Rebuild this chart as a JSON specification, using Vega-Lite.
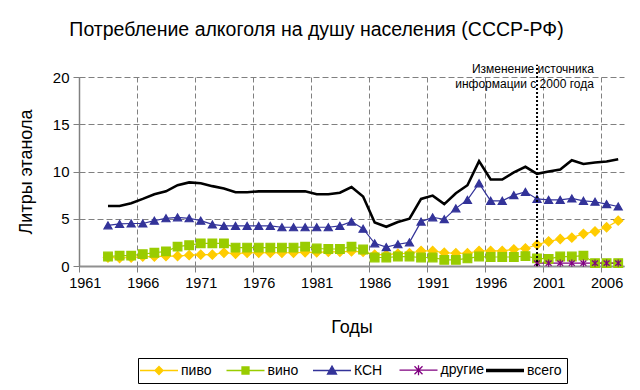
{
  "$schema": "https://vega.github.io/schema/vega-lite/v6.json",
  "width": 545,
  "height": 189,
  "autosize": {"type": "none"},
  "padding": {"left": 79, "top": 77, "right": 16, "bottom": 124},
  "background": "white",
  "config": {
    "font": "Liberation Sans",
    "view": {"stroke": null},
    "axis": {"labelColor": "#000", "titleColor": "#000", "labelFont": "Liberation Sans", "titleFont": "Liberation Sans", "titleFontWeight": "normal"}
  },
  "title": {"text": "Потребление алкоголя на душу населения (СССР-РФ)", "fontSize": 19.5, "fontWeight": "normal", "font": "Liberation Sans", "color": "#000", "anchor": "middle", "dx": -35, "offset": 23},
  "data": {"values": [
    {"year":1963,"series":"пиво","value":0.9},{"year":1964,"series":"пиво","value":0.85},{"year":1965,"series":"пиво","value":0.9},{"year":1966,"series":"пиво","value":1.0},{"year":1967,"series":"пиво","value":1.0},{"year":1968,"series":"пиво","value":1.05},{"year":1969,"series":"пиво","value":1.05},{"year":1970,"series":"пиво","value":1.15},{"year":1971,"series":"пиво","value":1.2},{"year":1972,"series":"пиво","value":1.2},{"year":1973,"series":"пиво","value":1.4},{"year":1974,"series":"пиво","value":1.3},{"year":1975,"series":"пиво","value":1.4},{"year":1976,"series":"пиво","value":1.4},{"year":1977,"series":"пиво","value":1.4},{"year":1978,"series":"пиво","value":1.4},{"year":1979,"series":"пиво","value":1.4},{"year":1980,"series":"пиво","value":1.45},{"year":1981,"series":"пиво","value":1.45},{"year":1982,"series":"пиво","value":1.5},{"year":1983,"series":"пиво","value":1.5},{"year":1984,"series":"пиво","value":1.55},{"year":1985,"series":"пиво","value":1.5},{"year":1986,"series":"пиво","value":1.2},{"year":1987,"series":"пиво","value":1.2},{"year":1988,"series":"пиво","value":1.3},{"year":1989,"series":"пиво","value":1.35},{"year":1990,"series":"пиво","value":1.6},{"year":1991,"series":"пиво","value":1.6},{"year":1992,"series":"пиво","value":1.4},{"year":1993,"series":"пиво","value":1.35},{"year":1994,"series":"пиво","value":1.35},{"year":1995,"series":"пиво","value":1.6},{"year":1996,"series":"пиво","value":1.6},{"year":1997,"series":"пиво","value":1.6},{"year":1998,"series":"пиво","value":1.75},{"year":1999,"series":"пиво","value":1.85},{"year":2000,"series":"пиво","value":2.25},{"year":2001,"series":"пиво","value":2.6},{"year":2002,"series":"пиво","value":2.85},{"year":2003,"series":"пиво","value":3.0},{"year":2004,"series":"пиво","value":3.4},{"year":2005,"series":"пиво","value":3.65},{"year":2006,"series":"пиво","value":4.1},{"year":2007,"series":"пиво","value":4.8},
    {"year":1963,"series":"вино","value":1.0},{"year":1964,"series":"вино","value":1.1},{"year":1965,"series":"вино","value":1.1},{"year":1966,"series":"вино","value":1.25},{"year":1967,"series":"вино","value":1.4},{"year":1968,"series":"вино","value":1.55},{"year":1969,"series":"вино","value":2.05},{"year":1970,"series":"вино","value":2.2},{"year":1971,"series":"вино","value":2.4},{"year":1972,"series":"вино","value":2.4},{"year":1973,"series":"вино","value":2.4},{"year":1974,"series":"вино","value":1.95},{"year":1975,"series":"вино","value":1.95},{"year":1976,"series":"вино","value":1.95},{"year":1977,"series":"вино","value":1.95},{"year":1978,"series":"вино","value":1.95},{"year":1979,"series":"вино","value":1.95},{"year":1980,"series":"вино","value":2.05},{"year":1981,"series":"вино","value":1.85},{"year":1982,"series":"вино","value":1.8},{"year":1983,"series":"вино","value":1.8},{"year":1984,"series":"вино","value":2.05},{"year":1985,"series":"вино","value":1.75},{"year":1986,"series":"вино","value":0.9},{"year":1987,"series":"вино","value":0.9},{"year":1988,"series":"вино","value":1.0},{"year":1989,"series":"вино","value":1.0},{"year":1990,"series":"вино","value":0.9},{"year":1991,"series":"вино","value":0.9},{"year":1992,"series":"вино","value":0.65},{"year":1993,"series":"вино","value":0.65},{"year":1994,"series":"вино","value":0.8},{"year":1995,"series":"вино","value":1.0},{"year":1996,"series":"вино","value":0.95},{"year":1997,"series":"вино","value":0.95},{"year":1998,"series":"вино","value":0.95},{"year":1999,"series":"вино","value":1.05},{"year":2000,"series":"вино","value":0.8},{"year":2001,"series":"вино","value":0.75},{"year":2002,"series":"вино","value":1.0},{"year":2003,"series":"вино","value":1.0},{"year":2004,"series":"вино","value":1.1},{"year":2005,"series":"вино","value":0.3},{"year":2006,"series":"вино","value":0.3},{"year":2007,"series":"вино","value":0.3},
    {"year":1963,"series":"КСН","value":4.3},{"year":1964,"series":"КСН","value":4.45},{"year":1965,"series":"КСН","value":4.5},{"year":1966,"series":"КСН","value":4.5},{"year":1967,"series":"КСН","value":4.8},{"year":1968,"series":"КСН","value":5.05},{"year":1969,"series":"КСН","value":5.15},{"year":1970,"series":"КСН","value":5.05},{"year":1971,"series":"КСН","value":4.8},{"year":1972,"series":"КСН","value":4.4},{"year":1973,"series":"КСН","value":4.25},{"year":1974,"series":"КСН","value":4.25},{"year":1975,"series":"КСН","value":4.25},{"year":1976,"series":"КСН","value":4.25},{"year":1977,"series":"КСН","value":4.25},{"year":1978,"series":"КСН","value":4.1},{"year":1979,"series":"КСН","value":4.1},{"year":1980,"series":"КСН","value":4.1},{"year":1981,"series":"КСН","value":4.1},{"year":1982,"series":"КСН","value":4.1},{"year":1983,"series":"КСН","value":4.25},{"year":1984,"series":"КСН","value":4.7},{"year":1985,"series":"КСН","value":3.95},{"year":1986,"series":"КСН","value":2.4},{"year":1987,"series":"КСН","value":2.0},{"year":1988,"series":"КСН","value":2.3},{"year":1989,"series":"КСН","value":2.5},{"year":1990,"series":"КСН","value":4.7},{"year":1991,"series":"КСН","value":5.15},{"year":1992,"series":"КСН","value":4.95},{"year":1993,"series":"КСН","value":6.1},{"year":1994,"series":"КСН","value":7.0},{"year":1995,"series":"КСН","value":8.75},{"year":1996,"series":"КСН","value":6.9},{"year":1997,"series":"КСН","value":6.9},{"year":1998,"series":"КСН","value":7.5},{"year":1999,"series":"КСН","value":7.85},{"year":2000,"series":"КСН","value":7.1},{"year":2001,"series":"КСН","value":7.0},{"year":2002,"series":"КСН","value":7.0},{"year":2003,"series":"КСН","value":7.15},{"year":2004,"series":"КСН","value":6.9},{"year":2005,"series":"КСН","value":6.8},{"year":2006,"series":"КСН","value":6.55},{"year":2007,"series":"КСН","value":6.3},
    {"year":2000,"series":"другие","value":0.3},{"year":2001,"series":"другие","value":0.3},{"year":2002,"series":"другие","value":0.3},{"year":2003,"series":"другие","value":0.3},{"year":2004,"series":"другие","value":0.3},{"year":2005,"series":"другие","value":0.3},{"year":2006,"series":"другие","value":0.3},{"year":2007,"series":"другие","value":0.3},
    {"year":1963,"series":"всего","value":6.35},{"year":1964,"series":"всего","value":6.35},{"year":1965,"series":"всего","value":6.65},{"year":1966,"series":"всего","value":7.1},{"year":1967,"series":"всего","value":7.6},{"year":1968,"series":"всего","value":7.9},{"year":1969,"series":"всего","value":8.55},{"year":1970,"series":"всего","value":8.85},{"year":1971,"series":"всего","value":8.75},{"year":1972,"series":"всего","value":8.45},{"year":1973,"series":"всего","value":8.2},{"year":1974,"series":"всего","value":7.8},{"year":1975,"series":"всего","value":7.8},{"year":1976,"series":"всего","value":7.9},{"year":1977,"series":"всего","value":7.9},{"year":1978,"series":"всего","value":7.9},{"year":1979,"series":"всего","value":7.9},{"year":1980,"series":"всего","value":7.9},{"year":1981,"series":"всего","value":7.6},{"year":1982,"series":"всего","value":7.6},{"year":1983,"series":"всего","value":7.75},{"year":1984,"series":"всего","value":8.35},{"year":1985,"series":"всего","value":7.35},{"year":1986,"series":"всего","value":4.6},{"year":1987,"series":"всего","value":4.15},{"year":1988,"series":"всего","value":4.65},{"year":1989,"series":"всего","value":5.0},{"year":1990,"series":"всего","value":7.1},{"year":1991,"series":"всего","value":7.45},{"year":1992,"series":"всего","value":6.55},{"year":1993,"series":"всего","value":7.7},{"year":1994,"series":"всего","value":8.55},{"year":1995,"series":"всего","value":11.1},{"year":1996,"series":"всего","value":9.15},{"year":1997,"series":"всего","value":9.15},{"year":1998,"series":"всего","value":9.9},{"year":1999,"series":"всего","value":10.5},{"year":2000,"series":"всего","value":9.75},{"year":2001,"series":"всего","value":10.0},{"year":2002,"series":"всего","value":10.2},{"year":2003,"series":"всего","value":11.2},{"year":2004,"series":"всего","value":10.8},{"year":2005,"series":"всего","value":10.95},{"year":2006,"series":"всего","value":11.05},{"year":2007,"series":"всего","value":11.3}
  ]},
  "encoding": {
    "x": {"field": "year", "type": "quantitative", "scale": {"domain": [1960.5, 2007.5], "nice": false, "zero": false},
      "axis": {"title": "Годы", "titleFontSize": 18, "titlePadding": 29, "labelFontSize": 14.5, "values": [1960.5,1965.5,1970.5,1975.5,1980.5,1985.5,1990.5,1995.5,2000.5,2005.5], "labelExpr": "format(datum.value + 0.5, 'd')", "labelOffset": 5.8, "labelOverlap": false, "labelFlush": false, "labelPadding": 4, "tickSize": 6, "tickColor": "#808080", "domainColor": "#909090", "domainWidth": 2, "grid": true, "gridColor": "#808080", "gridDash": [5, 3], "gridWidth": 1}},
    "y": {"field": "value", "type": "quantitative", "scale": {"domain": [0, 20], "nice": false},
      "axis": {"title": "Литры этанола", "titleFontSize": 18, "titlePadding": 17, "labelFontSize": 15, "values": [0,5,10,15,20], "labelPadding": 4, "tickSize": 6, "tickColor": "#808080", "domainColor": "#808080", "domainWidth": 1.5, "grid": true, "gridColor": "#808080", "gridDash": [6, 3], "gridWidth": 1}}
  },
  "layer": [
    {
      "transform": [{"filter": "datum.series != 'всего'"}],
      "mark": {"type": "line", "strokeWidth": 1.2},
      "encoding": {
        "color": {"field": "series", "type": "nominal",
          "scale": {"domain": ["пиво", "вино", "КСН", "другие", "всего"], "range": ["#FFCC00", "#99CC00", "#333399", "#800080", "#000000"]},
          "legend": {"orient": "none", "legendX": 59, "legendY": 281, "direction": "horizontal", "columns": 5, "title": null,
            "symbolSize": 400, "labelFontSize": 14, "labelFont": "Liberation Sans", "labelColor": "#000", "labelOffset": 24,
            "strokeColor": "#000", "padding": 5, "gridAlign": "all", "columnPadding": -5.5,
            "encode": {"symbols": {"update": {
              "shape": {"signal": "datum.value == 'пиво' ? 'M-1,0H2.8M0.9,-0.4L1.3,0L0.9,0.4L0.5,0Z' : datum.value == 'вино' ? 'M-1,0H2.8M0.55,-0.35H1.25V0.35H0.55Z' : datum.value == 'КСН' ? 'M-1,0H2.8M0.9,-0.45L1.35,0.35H0.45Z' : datum.value == 'другие' ? 'M-1,0H2.8M0.9,-0.5V0.5M0.5,-0.4L1.3,0.4M0.5,0.4L1.3,-0.4' : 'M-1,0H2.8'"},
              "fill": {"scale": "color", "field": "value"},
              "stroke": {"scale": "color", "field": "value"},
              "strokeWidth": {"signal": "datum.value == 'всего' ? 3.5 : 1.3"},
              "opacity": {"value": 1}
            }}}
          }}
      }
    },
    {
      "transform": [{"filter": "datum.series == 'всего'"}],
      "mark": {"type": "line", "strokeWidth": 2.6},
      "encoding": {"color": {"field": "series", "type": "nominal"}}
    },
    {
      "transform": [{"filter": "datum.series != 'всего'"}],
      "mark": {"type": "point", "filled": true, "opacity": 1, "strokeWidth": 1.2},
      "encoding": {
        "color": {"field": "series", "type": "nominal"},
        "stroke": {"field": "series", "type": "nominal", "scale": {"domain": ["пиво", "вино", "КСН", "другие"], "range": ["#FFCC00", "#99CC00", "#333399", "#800080"]}, "legend": null},
        "shape": {"field": "series", "type": "nominal", "scale": {"domain": ["пиво", "вино", "КСН", "другие"], "range": ["diamond", "square", "triangle-up", "M0,-1V1M-0.8,-0.7L0.8,0.7M-0.8,0.7L0.8,-0.7"]}, "legend": null},
        "size": {"field": "series", "type": "nominal", "scale": {"domain": ["пиво", "вино", "КСН", "другие"], "range": [85, 55, 75, 100]}, "legend": null}
      }
    },
    {
      "transform": [{"filter": "datum.series == 'всего' && datum.year == 2000"}],
      "mark": {"type": "rule", "color": "#000", "strokeWidth": 2, "strokeDash": [2, 2]},
      "encoding": {"y": {"datum": 0}, "y2": {"datum": 21.3}}
    },
    {
      "transform": [{"filter": "datum.series == 'всего' && datum.year == 2000"}],
      "mark": {"type": "text", "align": "right", "baseline": "top", "fontSize": 12, "font": "Liberation Sans", "color": "#000", "lineHeight": 14.5},
      "encoding": {"x": {"datum": 2004.9}, "y": {"datum": 21.35}, "text": {"value": ["Изменение    источника", "информации с 2000 года"]}}
    }
  ]
}
